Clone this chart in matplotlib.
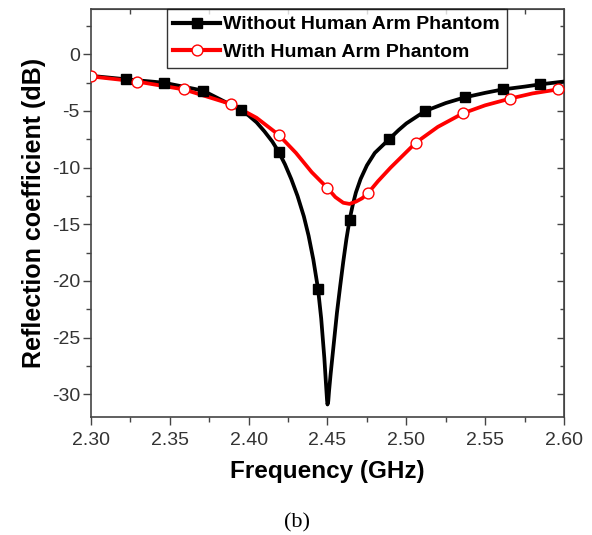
import matplotlib
matplotlib.use("Agg")
import matplotlib.pyplot as plt
from matplotlib.lines import Line2D
from matplotlib.ticker import MultipleLocator, FormatStrFormatter

# curve without phantom
f_without = [2.300, 2.322, 2.346, 2.371, 2.395, 2.400, 2.405, 2.410, 2.415, 2.419,
             2.423, 2.427, 2.431, 2.435, 2.438, 2.441, 2.444, 2.446, 2.448, 2.449,
             2.4497, 2.450, 2.4505, 2.451, 2.452, 2.454, 2.456, 2.458, 2.460, 2.462,
             2.464, 2.466, 2.468, 2.471, 2.475, 2.480, 2.489, 2.495, 2.500, 2.512,
             2.525, 2.537, 2.550, 2.561, 2.575, 2.585, 2.600]
s_without = [-1.9, -2.2, -2.5, -3.2, -4.9, -5.4, -6.0, -6.8, -7.7, -8.6,
             -9.7, -11.0, -12.5, -14.3, -16.0, -18.1, -20.7, -23.3, -26.8, -29.0,
             -30.5, -30.9, -30.6, -29.7, -28.2, -25.5, -22.8, -20.5, -18.3, -16.3,
             -14.6, -13.3, -12.2, -11.0, -9.8, -8.7, -7.5, -6.7, -6.1, -5.0,
             -4.3, -3.8, -3.4, -3.1, -2.85, -2.65, -2.4]
mk_f_without = [2.322, 2.346, 2.371, 2.395, 2.419, 2.444, 2.464, 2.489, 2.512, 2.537, 2.561, 2.585]
mk_s_without = [-2.2, -2.5, -3.2, -4.9, -8.6, -20.7, -14.6, -7.5, -5.0, -3.8, -3.1, -2.65]

# curve with phantom
f_with = [2.300, 2.329, 2.359, 2.389, 2.405, 2.419, 2.430, 2.440, 2.450, 2.455,
          2.460, 2.464, 2.468, 2.472, 2.476, 2.482, 2.490, 2.498, 2.506, 2.520,
          2.536, 2.550, 2.566, 2.580, 2.596, 2.600]
s_with = [-1.95, -2.4, -3.1, -4.4, -5.6, -7.1, -8.7, -10.4, -11.8, -12.6,
          -13.1, -13.2, -13.0, -12.7, -12.2, -11.2, -10.0, -8.9, -7.8, -6.4,
          -5.2, -4.5, -3.9, -3.45, -3.1, -3.0]
mk_f_with = [2.300, 2.329, 2.359, 2.389, 2.419, 2.450, 2.476, 2.506, 2.536, 2.566, 2.596]
mk_s_with = [-1.95, -2.4, -3.1, -4.4, -7.1, -11.8, -12.2, -7.8, -5.2, -3.9, -3.1]

labels = ["Without Human Arm Phantom", "With Human Arm Phantom"]

plt.rcParams['font.family'] = ['Liberation Sans', 'DejaVu Sans']
plt.rcParams['axes.unicode_minus'] = False

fig = plt.figure(figsize=(5.92, 5.35), dpi=100)
ax = fig.add_axes([0.1537, 0.2206, 0.799, 0.7626])

ax.plot(f_without, s_without, color='black', lw=2.7, zorder=3, solid_joinstyle='round')
ax.plot(mk_f_without, mk_s_without, 's', color='black', ms=6.5, zorder=4)
ax.plot(f_with, s_with, color='red', lw=2.7, zorder=3, solid_joinstyle='round')
ax.plot(mk_f_with, mk_s_with, 'o', mfc='white', mec='red', mew=1.0, ms=7.8, zorder=4)

ax.set_xlim(2.30, 2.60)
ax.set_ylim(-32, 4)
ax.xaxis.set_major_locator(MultipleLocator(0.05))
ax.xaxis.set_minor_locator(MultipleLocator(0.025))
ax.xaxis.set_major_formatter(FormatStrFormatter('%.2f'))
ax.yaxis.set_major_locator(MultipleLocator(5))
ax.yaxis.set_minor_locator(MultipleLocator(2.5))

ax.tick_params(which='both', direction='out', colors='#444', labelcolor='#333', labelsize=14)
ax.tick_params(which='major', length=6, width=1)
ax.tick_params(which='minor', length=3.5, width=1)
ax.tick_params(axis='y', pad=2)
ax.tick_params(axis='x', pad=5)

for sp in ax.spines.values():
    sp.set_color('#444')
    sp.set_linewidth(1.2)

# top: minor ticks only, inward; right: inward ticks
top = ax.secondary_xaxis('top')
top.xaxis.set_major_locator(MultipleLocator(0.05))
top.xaxis.set_minor_locator(MultipleLocator(0.025))
top.tick_params(which='major', length=0, labeltop=False)
top.tick_params(which='minor', direction='in', length=3.5, width=1, colors='#444')
top.spines['top'].set_color('#444')
right = ax.secondary_yaxis('right')
right.yaxis.set_major_locator(MultipleLocator(5))
right.yaxis.set_minor_locator(MultipleLocator(2.5))
right.tick_params(which='both', direction='in', labelright=False, colors='#444', width=1)
right.tick_params(which='major', length=5)
right.tick_params(which='minor', length=3)
right.spines['right'].set_color('#444')

ax.set_xlabel('Frequency (GHz)', fontsize=17.5, fontweight='bold', labelpad=8)
ax.set_ylabel('Reflection coefficient (dB)', fontsize=18, fontweight='bold', labelpad=4)

handles = [Line2D([], [], color='black', lw=3, marker='s', ms=6.5),
           Line2D([], [], color='red', lw=3, marker='o', mfc='white', mec='red', ms=7.8)]
leg = ax.legend(handles, labels, loc='upper left', bbox_to_anchor=(0.16, 1.0),
                prop={'weight': 'bold', 'size': 14}, frameon=True, fancybox=False,
                edgecolor='black', handlelength=2.4, handletextpad=0.15, borderpad=0.35,
                labelspacing=0.5, borderaxespad=0)
leg.get_frame().set_linewidth(1.0)

fig.text(0.502, 0.0224, '(b)', fontsize=16, family='Liberation Serif', ha='center', va='center')

fig.savefig('out.png', dpi=100)
